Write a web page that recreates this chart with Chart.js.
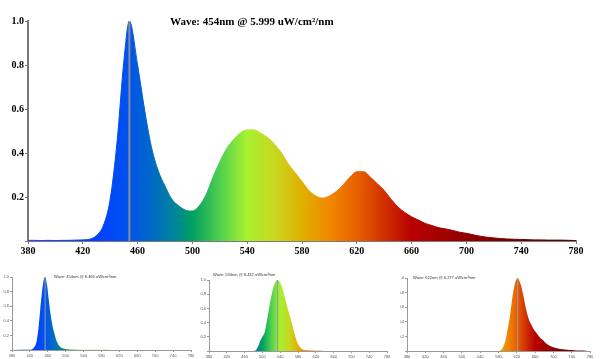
<!DOCTYPE html>
<html>
<head>
<meta charset="utf-8">
<script src="https://cdn.jsdelivr.net/npm/chart.js@4"></script>
<style>
  body { margin: 0; background: #fff; }
  #page { position: relative; width: 600px; height: 359px; overflow: hidden; }
  .box { position: absolute; }
</style>
</head>
<body>
<div id="page">
  <div class="box" style="left:0;top:0;width:600px;height:262px"><canvas id="mainChart"></canvas></div>
  <div class="box" style="left:0;top:262px;width:200px;height:97px"><canvas id="blueChart"></canvas></div>
  <div class="box" style="left:200px;top:262px;width:200px;height:97px"><canvas id="greenChart"></canvas></div>
  <div class="box" style="left:400px;top:262px;width:200px;height:97px"><canvas id="redChart"></canvas></div>
</div>
<script>
// full spectrum (normalised)
const mainNm = [380, 385, 390, 395, 400, 405, 410, 415, 420, 425, 430, 435, 440, 445, 450, 454, 460, 465, 470, 475,
  480, 485, 490, 495, 500, 505, 510, 515, 520, 525, 530, 535, 540, 545, 550, 555, 560, 565, 570, 575,
  580, 585, 590, 595, 600, 605, 610, 615, 620, 625, 630, 635, 640, 645, 650, 655, 660, 665, 670, 675,
  680, 685, 690, 695, 700, 705, 710, 715, 720, 725, 730, 735, 740, 745, 750, 755, 760, 765, 770, 775, 780];
const mainVal = [0.003, 0.003, 0.002, 0.003, 0.002, 0.003, 0.003, 0.004, 0.005, 0.008, 0.025, 0.07, 0.19, 0.45, 0.82, 1.0, 0.80, 0.60, 0.43, 0.32,
  0.25, 0.19, 0.16, 0.14, 0.136, 0.16, 0.21, 0.29, 0.36, 0.42, 0.46, 0.49, 0.505, 0.505, 0.49, 0.47, 0.44, 0.40, 0.35, 0.31,
  0.27, 0.23, 0.205, 0.195, 0.205, 0.225, 0.255, 0.29, 0.315, 0.315, 0.29, 0.26, 0.23, 0.19, 0.155, 0.13, 0.11, 0.095, 0.08, 0.07,
  0.06, 0.055, 0.048, 0.04, 0.035, 0.028, 0.022, 0.017, 0.014, 0.011, 0.009, 0.008, 0.007, 0.006, 0.005, 0.005, 0.004, 0.004, 0.004, 0.003, 0.002];

// single channels
const blueNm = [380, 420, 425, 430, 435, 440, 445, 450, 454, 458, 462, 466, 470, 475, 480, 485, 490, 500, 520, 540, 560, 580, 600, 620];
const blueVal = [0, 0.002, 0.01, 0.04, 0.12, 0.35, 0.68, 0.93, 1.0, 0.9, 0.7, 0.5, 0.35, 0.22, 0.12, 0.06, 0.03, 0.015, 0.008, 0.005, 0.004, 0.002, 0.001, 0];
const greenNm = [380, 480, 485, 490, 495, 500, 505, 510, 515, 520, 525, 530, 534, 540, 545, 550, 555, 560, 565, 570, 575, 580, 585, 590, 600, 620, 640];
const greenVal = [0, 0, 0.01, 0.06, 0.14, 0.2, 0.26, 0.42, 0.6, 0.77, 0.9, 0.98, 1.0, 0.96, 0.88, 0.76, 0.64, 0.53, 0.42, 0.3, 0.18, 0.1, 0.05, 0.025, 0.01, 0.003, 0];
const redNm = [380, 580, 585, 590, 595, 600, 605, 610, 615, 622, 625, 630, 635, 640, 645, 650, 655, 660, 665, 670, 675, 680, 685, 690, 700, 710, 720, 730, 740, 750, 760, 770, 780];
const redVal = [0, 0, 0.01, 0.05, 0.14, 0.3, 0.48, 0.72, 0.9, 1.0, 0.97, 0.88, 0.74, 0.58, 0.46, 0.38, 0.32, 0.27, 0.23, 0.19, 0.16, 0.13, 0.1, 0.08, 0.05, 0.035, 0.025, 0.018, 0.012, 0.008, 0.006, 0.004, 0];

const peaks = [454, 454, 534, 622];
const titles = [
  'Wave: 454nm @ 5.999 uW/cm\u00B2/nm',
  'Wave: 454nm @ 8.466 uW/cm\u00B2/nm',
  'Wave: 534nm @ 8.432 uW/cm\u00B2/nm',
  'Wave: 622nm @ 6.277 uW/cm\u00B2/nm'
];

// wavelength colour map for the fill
const stopNm = [380, 430, 450, 470, 490, 500, 520, 540, 560, 580, 600, 620, 640, 660, 700, 740, 780];
const stopColor = ['#3040ff', '#0040ff', '#0050f0', '#0068c8', '#008a90', '#00a060', '#50d050', '#a8f030', '#c8d820',
  '#e0b000', '#f08800', '#e86000', '#d03000', '#b80000', '#900000', '#700000', '#600000'];

function spectrumFill(ctx) {
  const chart = ctx.chart;
  if (!chart.chartArea) return '#0050f0';
  const x = chart.scales.x;
  const x0 = x.getPixelForValue(380);
  const x1 = x.getPixelForValue(780);
  const g = chart.ctx.createLinearGradient(x0, 0, x1, 0);
  stopNm.forEach((nm, i) => g.addColorStop((nm - 380) / 400, stopColor[i]));
  return g;
}

const titlePlugin = {
  id: 'waveTitle',
  afterDraw(chart, args, opts) {
    const c = chart.ctx;
    c.save();
    c.font = opts.font;
    c.fillStyle = opts.color;
    c.textAlign = 'left';
    c.textBaseline = 'middle';
    c.fillText(opts.text, opts.x, opts.y);
    c.restore();
  }
};

function buildSpectrum(id, nm, vals, peak, title, g) {
  const pts = nm.map((w, i) => ({ x: w, y: vals[i] }));
  const peakVal = vals[nm.indexOf(peak)];
  return new Chart(document.getElementById(id), {
    type: 'line',
    data: {
      datasets: [
        {
          data: [{ x: peak, y: 0 }, { x: peak, y: peakVal }],
          borderColor: g.lineColor,
          borderWidth: g.lineWidth,
          pointRadius: 0,
          fill: false,
          order: 0
        },
        {
          data: pts,
          fill: 'origin',
          backgroundColor: spectrumFill,
          borderColor: spectrumFill,
          borderWidth: g.edge,
          pointRadius: 0,
          cubicInterpolationMode: 'monotone',
          order: 1
        }
      ]
    },
    options: {
      responsive: true,
      maintainAspectRatio: false,
      animation: false,
      layout: { padding: { left: 0, top: g.top, right: g.right, bottom: 0 } },
      plugins: {
        legend: { display: false },
        tooltip: { enabled: false },
        waveTitle: { text: title, x: g.titleX, y: g.titleY, font: g.titleFont, color: g.titleColor }
      },
      scales: {
        x: {
          type: 'linear',
          min: 380,
          max: 780,
          afterFit: (s) => { s.height = g.xHeight; },
          border: { color: g.axisColor, width: g.axisWidth },
          grid: { drawOnChartArea: false, drawTicks: true, tickLength: g.tick, color: g.axisColor },
          ticks: { stepSize: 40, padding: g.tickPad, maxRotation: 0, autoSkip: false, color: g.labelColor, font: g.labelFont }
        },
        y: {
          min: 0,
          max: 1.0,
          afterFit: (s) => { s.width = g.yWidth; },
          border: { color: g.axisColor, width: g.axisWidth },
          grid: { drawOnChartArea: false, drawTicks: true, tickLength: g.tick, color: g.axisColor },
          ticks: {
            stepSize: 0.2,
            padding: g.tickPad,
            color: g.labelColor,
            font: g.labelFont,
            callback: (v) => (v === 0 ? '' : v.toFixed(1))
          }
        }
      }
    },
    plugins: [titlePlugin]
  });
}

const bigFont = { family: 'Liberation Serif', size: 10, weight: 'bold' };
const smallFont = { family: 'Liberation Sans', size: 4 };

buildSpectrum('mainChart', mainNm, mainVal, peaks[0], titles[0], {
  top: 21, right: 24, xHeight: 21, yWidth: 28, tick: 3, tickPad: 1, edge: 1,
  axisColor: '#7a7a7a', axisWidth: 2, labelColor: '#000', labelFont: bigFont,
  lineColor: '#8c8ca0', lineWidth: 2,
  titleX: 170, titleY: 22, titleFont: 'bold 11px "Liberation Serif"', titleColor: '#000'
});

const smallGeo = {
  tick: 2, tickPad: 1, edge: 0, axisColor: '#999', axisWidth: 1, labelColor: '#555', labelFont: smallFont,
  lineColor: '#9a9aa8', lineWidth: 1, titleFont: '4px "Liberation Sans"', titleColor: '#333'
};

buildSpectrum('blueChart', blueNm, blueVal, peaks[1], titles[1],
  Object.assign({}, smallGeo, { top: 15, right: 9, xHeight: 9, yWidth: 12, titleX: 54, titleY: 15 }));
buildSpectrum('greenChart', greenNm, greenVal, peaks[2], titles[2],
  Object.assign({}, smallGeo, { top: 18, right: 13, xHeight: 8, yWidth: 9, titleX: 13, titleY: 13 }));
buildSpectrum('redChart', redNm, redVal, peaks[3], titles[3],
  Object.assign({}, smallGeo, { top: 16, right: 10, xHeight: 8, yWidth: 7, titleX: 13, titleY: 16 }));
</script>
</body>
</html>
